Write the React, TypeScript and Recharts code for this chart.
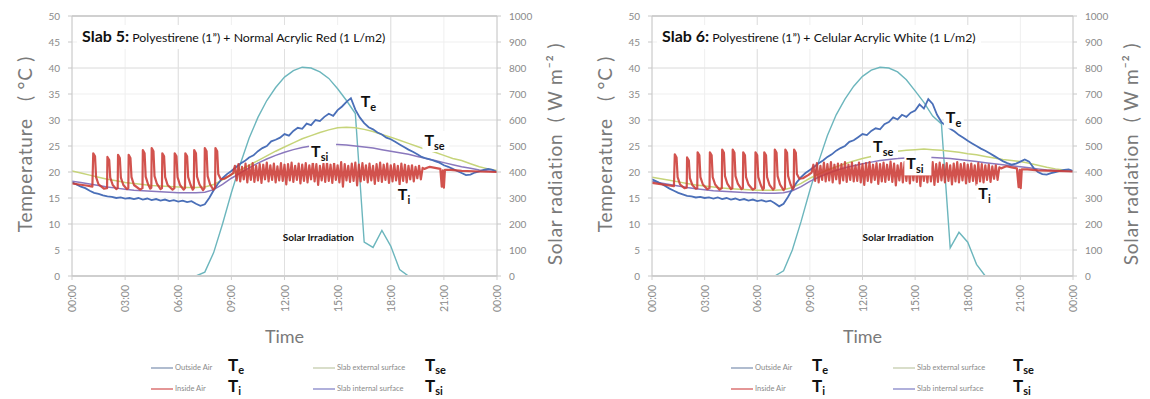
import React from "react";
import { LineChart, Line, XAxis, YAxis, CartesianGrid, ReferenceDot, ReferenceLine } from "recharts";

// time axis
const X_TICKS = [0, 3, 6, 9, 12, 15, 18, 21, 24];
const X_TICK_LABELS = ["00:00", "03:00", "06:00", "09:00", "12:00", "15:00", "18:00", "21:00", "00:00"];
const T_TICKS = [0, 5, 10, 15, 20, 25, 30, 35, 40, 45, 50];
const S_TICKS = [0, 100, 200, 300, 400, 500, 600, 700, 800, 900, 1000];

const HOURS_HALF = [
  0, 0.5, 1, 1.5, 2, 2.5, 3, 3.5, 4, 4.5, 5, 5.5, 6, 6.5, 7, 7.5, 8, 8.5, 9, 9.5, 10, 10.5, 11, 11.5,
  12, 12.5, 13, 13.5, 14, 14.5, 15, 15.5, 16, 16.5, 17, 17.5, 18, 18.5, 19, 19.5, 20, 20.5, 21, 21.5,
  22, 22.5, 23, 23.5, 24,
];
const HOURS_QUARTER = [
  0, 0.25, 0.5, 0.75, 1, 1.25, 1.5, 1.75, 2, 2.25, 2.5, 2.75, 3, 3.25, 3.5, 3.75, 4, 4.25, 4.5, 4.75,
  5, 5.25, 5.5, 5.75, 6, 6.25, 6.5, 6.75, 7, 7.25, 7.5, 7.75, 8, 8.25, 8.5, 8.75, 9, 9.25, 9.5, 9.75,
  10, 10.25, 10.5, 10.75, 11, 11.25, 11.5, 11.75, 12, 12.25, 12.5, 12.75, 13, 13.25, 13.5, 13.75,
  14, 14.25, 14.5, 14.75, 15, 15.25, 15.5, 15.75, 16, 16.25, 16.5, 16.75, 17, 17.25, 17.5, 17.75,
  18, 18.25, 18.5, 18.75, 19, 19.25, 19.5, 19.75, 20, 20.25, 20.5, 20.75, 21, 21.25, 21.5, 21.75,
  22, 22.25, 22.5, 22.75, 23, 23.25, 23.5, 23.75, 24,
];

// ---- Slab 5 ----
const TE_5 = [
  18.0, 17.6, 17.2, 16.9, 16.4, 16.0, 15.8, 15.5,
  15.3, 15.2, 15.0, 15.1, 14.9, 15.0, 14.8, 15.0,
  14.7, 14.9, 14.6, 14.8, 14.5, 14.7, 14.4, 14.6,
  14.3, 14.5, 14.2, 14.4, 13.9, 13.5, 13.8, 15.0,
  16.5, 17.8, 18.8, 19.6, 20.2, 20.9, 21.6, 22.1,
  22.8, 23.2, 24.0, 24.6, 25.0, 25.9, 26.2, 26.6,
  27.3, 27.0, 27.9, 28.5, 28.3, 29.3, 29.0, 30.0,
  29.8, 30.6, 31.2, 30.8, 31.9, 32.6, 33.5, 34.2,
  32.0, 30.5, 29.4, 28.6, 28.2, 27.6, 27.2, 26.6,
  26.3, 25.8, 25.3, 24.8, 24.3, 23.9, 23.4, 22.9,
  22.6, 22.4, 22.1, 21.8, 21.3, 21.0, 20.6, 20.2,
  19.8, 19.4, 19.5, 19.9, 20.1, 20.4, 20.6, 20.4,
  20.0,
];
const TSE_5 = [
  20.2, 19.8, 19.4, 19.0, 18.6, 18.3, 18.0, 17.8, 17.6, 17.4, 17.3, 17.2, 17.1, 17.0, 17.0, 17.1,
  17.6, 18.5, 19.5, 20.4, 21.3, 22.2, 23.1, 24.0,
  24.8, 25.6, 26.4, 27.0, 27.6, 28.1, 28.5, 28.6,
  28.5, 28.2, 27.8, 27.2, 26.7, 26.1, 25.5, 24.9,
  24.3, 23.8, 23.2, 22.6, 22.2, 21.6, 21.0, 20.6,
  20.3,
];
const TSI_5 = [
  18.2, 18.0, 17.7, 17.4, 17.1, 16.9, 16.7, 16.5, 16.4, 16.3, 16.2, 16.1, 16.0, 16.0, 16.0, 16.1,
  16.6, 17.6, 18.8, 19.8, 20.8, 21.7, 22.5, 23.2,
  23.8, 24.3, 24.7, 25.0, 25.2, 25.3, 25.3, 25.2,
  25.0, 24.8, 24.6, 24.3, 24.0, 23.7, 23.4, 23.0,
  22.6, 22.2, 21.8, 21.4, 21.0, 20.7, 20.4, 20.2,
  20.0,
];
const SOLAR_5 = [
  0, 0, 0, 0, 0, 0, 0, 0, 0, 0, 0, 0, 0, 0, 0,
  15, 90, 200, 320, 430, 530, 610, 675, 725, 765, 790, 803, 800, 785, 760, 720, 675, 625,
  130, 110, 175, 115, 25,
  0, 0, 0, 0, 0, 0, 0, 0, 0, 0, 0,
];
const TI_HEAD_5 = [
  [0, 17.8], [0.4, 17.6], [0.8, 17.4], [1.15, 17.2],
  [1.2, 23.6], [1.3, 23.0], [1.36, 19.0], [1.5, 17.6], [1.8, 16.8], [1.98, 16.9],
  [2.0, 22.9], [2.1, 22.3], [2.16, 18.9], [2.3, 17.5], [2.5, 16.7], [2.58, 16.9],
  [2.6, 23.3], [2.7, 22.7], [2.76, 18.9], [2.9, 17.5], [3.1, 16.7], [3.18, 16.9],
  [3.2, 23.3], [3.3, 22.7], [3.36, 19.0], [3.5, 17.5], [3.85, 16.6], [3.98, 16.9],
  [4.0, 24.2], [4.1, 23.6], [4.16, 19.1], [4.3, 17.6], [4.42, 16.8], [4.48, 17.0],
  [4.5, 24.6], [4.6, 24.0], [4.66, 19.2], [4.8, 17.7], [5.0, 16.7], [5.08, 16.9],
  [5.1, 23.6], [5.2, 23.0], [5.26, 19.0], [5.4, 17.5], [5.68, 16.6], [5.78, 16.9],
  [5.8, 23.6], [5.9, 23.0], [5.96, 19.0], [6.1, 17.5], [6.3, 16.6], [6.38, 16.9],
  [6.4, 23.6], [6.5, 23.0], [6.56, 19.0], [6.7, 17.5], [6.82, 16.6], [6.88, 16.9],
  [6.9, 24.2], [7.0, 23.6], [7.06, 19.1], [7.2, 17.6], [7.4, 16.5], [7.48, 16.9],
  [7.5, 24.6], [7.6, 24.0], [7.66, 19.2], [7.8, 17.6], [7.98, 16.6], [8.08, 17.0],
  [8.1, 24.6], [8.2, 24.0], [8.26, 19.6], [8.4, 18.6], [8.6, 18.7], [8.9, 19.3], [9.1, 19.8],
];
// thermostat band, sampled every 0.1 h from 9.2 h
const TI_BAND_5 = [
  21.2, 18.4, 21.5, 18.2, 21.0, 18.6, 21.6, 18.0, 21.3, 18.5,
  21.7, 18.1, 21.2, 18.4, 21.5, 17.9, 21.4, 18.6, 21.8, 18.2,
  21.3, 18.5, 21.6, 18.0, 21.1, 18.4, 21.7, 18.3, 21.4, 17.6,
  21.5, 18.4, 21.8, 18.1, 21.2, 18.5, 21.6, 17.8, 21.4, 18.3,
  21.7, 18.0, 21.3, 18.6, 21.9, 18.2, 21.5, 17.5, 21.2, 18.4,
  21.6, 18.1, 21.8, 18.3, 21.4, 17.9, 21.7, 18.5, 21.3, 18.0,
  21.9, 17.2, 21.5, 18.4, 21.2, 18.1, 21.6, 18.3, 21.8, 17.4,
  21.4, 18.2, 21.7, 18.5, 21.3, 18.0, 21.6, 18.4, 21.2, 17.7,
  21.5, 18.3, 21.8, 18.1, 21.4, 18.5, 21.6, 17.9, 21.3, 18.2,
  21.5, 18.4, 21.2, 17.6, 21.6, 18.3, 21.4, 18.0, 21.2, 18.6,
  21.3, 18.2, 21.0, 18.8, 21.2, 18.6, 20.8,
];
const TI_TAIL_5 = [
  [19.9, 20.6], [20.2, 21.0], [20.5, 20.8], [20.8, 20.6], [20.88, 17.2], [20.94, 20.3],
  [21.0, 17.0], [21.06, 20.4], [21.4, 20.4], [22.0, 20.2], [23.0, 20.1], [24.0, 20.0],
];

// ---- Slab 6 ----
const TE_6 = [
  18.6, 18.2, 17.8, 17.3, 16.8, 16.4, 16.0, 15.7,
  15.4, 15.3, 15.1, 15.2, 15.0, 15.1, 14.9, 15.1,
  14.8, 15.0, 14.7, 14.9, 14.6, 14.8, 14.5, 14.7,
  14.4, 14.6, 14.3, 14.5, 14.0, 13.4, 13.9, 15.2,
  16.7, 18.0, 19.0, 19.8, 20.4, 21.0, 21.7, 22.2,
  22.9, 23.4, 24.1, 24.6, 25.0, 25.8, 26.1, 26.7,
  27.3, 27.1, 27.9, 28.4, 28.2, 29.2, 29.6, 30.5,
  30.1, 31.0, 30.6, 31.4, 31.8, 33.0, 32.2, 34.0,
  33.1, 31.0, 29.6, 28.9, 28.3, 27.8, 27.1, 26.6,
  26.0, 25.5, 25.0, 24.5, 24.1, 23.6, 23.1, 22.6,
  22.1, 21.7, 21.4, 21.6, 22.0, 22.4, 22.0, 20.8,
  20.0, 19.6, 19.5, 19.8, 20.0, 20.2, 20.4, 20.5,
  20.2,
];
const TSE_6 = [
  19.0, 18.7, 18.4, 18.1, 17.8, 17.5, 17.3, 17.1, 16.9, 16.8, 16.7, 16.6, 16.5, 16.5, 16.5, 16.6,
  17.0, 17.8, 18.8, 19.6, 20.4, 21.0, 21.6, 22.1,
  22.6, 23.0, 23.4, 23.7, 24.0, 24.2, 24.3, 24.4,
  24.3, 24.2, 24.0, 23.8, 23.5, 23.3, 23.0, 22.7,
  22.4, 22.2, 22.0, 21.7, 21.3, 20.9, 20.6, 20.4,
  20.2,
];
const TSI_6 = [
  18.2, 17.9, 17.6, 17.3, 17.0, 16.8, 16.6, 16.4, 16.3, 16.2, 16.1, 16.0, 16.0, 15.9, 15.9, 16.0,
  16.4, 17.2, 18.2, 19.0, 19.7, 20.3, 20.8, 21.2,
  21.6, 21.9, 22.2, 22.4, 22.6, 22.7, 22.8, 22.8,
  22.8, 22.7, 22.6, 22.4, 22.2, 22.0, 21.8, 21.6,
  21.4, 21.2, 21.0, 20.8, 20.6, 20.4, 20.3, 20.2,
  20.1,
];
const SOLAR_6 = [
  0, 0, 0, 0, 0, 0, 0, 0, 0, 0, 0, 0, 0, 0, 0,
  20, 100, 210, 330, 440, 540, 620, 680, 730, 768, 792, 803, 800, 785, 755, 712, 668, 615,
  585, 108, 168, 130, 45,
  0, 0, 0, 0, 0, 0, 0, 0, 0, 0, 0,
];
const TI_HEAD_6 = [
  [0, 17.9], [0.4, 17.7], [0.8, 17.5], [1.25, 17.3],
  [1.3, 23.4], [1.4, 22.8], [1.46, 19.0], [1.6, 17.6], [1.85, 16.9], [1.98, 17.0],
  [2.0, 22.8], [2.1, 22.2], [2.16, 18.8], [2.3, 17.5], [2.5, 16.8], [2.58, 16.9],
  [2.6, 23.8], [2.7, 23.2], [2.76, 19.0], [2.9, 17.6], [3.15, 16.7], [3.28, 16.9],
  [3.3, 23.8], [3.4, 23.2], [3.46, 19.0], [3.6, 17.6], [3.85, 16.6], [3.98, 16.9],
  [4.0, 24.3], [4.1, 23.7], [4.16, 19.2], [4.3, 17.7], [4.5, 16.7], [4.58, 16.9],
  [4.6, 24.3], [4.7, 23.7], [4.76, 19.2], [4.9, 17.7], [5.1, 16.7], [5.18, 16.9],
  [5.2, 23.8], [5.3, 23.2], [5.36, 19.0], [5.5, 17.6], [5.75, 16.6], [5.88, 16.9],
  [5.9, 23.8], [6.0, 23.2], [6.06, 19.0], [6.2, 17.5], [6.32, 16.6], [6.38, 16.9],
  [6.4, 23.8], [6.5, 23.2], [6.56, 19.0], [6.7, 17.5], [6.9, 16.6], [6.98, 16.9],
  [7.0, 24.3], [7.1, 23.7], [7.16, 19.2], [7.3, 17.6], [7.5, 16.5], [7.58, 16.9],
  [7.6, 24.3], [7.7, 23.7], [7.76, 19.2], [7.9, 17.6], [8.02, 16.7], [8.08, 17.0],
  [8.1, 24.3], [8.2, 23.7], [8.26, 19.6], [8.4, 18.7], [8.6, 18.8], [8.9, 19.4], [9.1, 19.9],
];
const TI_BAND_6 = [
  21.4, 18.3, 21.7, 18.0, 21.2, 18.5, 21.8, 18.2, 21.5, 18.4,
  21.9, 18.0, 21.4, 18.6, 21.6, 17.8, 21.5, 18.4, 21.9, 18.1,
  21.4, 18.5, 21.8, 18.2, 21.3, 18.3, 21.8, 18.0, 21.5, 17.5,
  21.7, 18.3, 21.9, 18.0, 21.4, 18.5, 21.7, 17.7, 21.5, 18.2,
  21.8, 18.1, 21.4, 18.5, 22.0, 18.1, 21.6, 17.4, 21.3, 18.4,
  21.7, 18.0, 21.9, 18.3, 21.5, 17.8, 21.8, 18.4, 21.4, 18.1,
  22.0, 17.3, 21.6, 18.3, 21.3, 18.0, 21.7, 18.2, 21.9, 17.5,
  21.5, 18.1, 21.8, 18.4, 21.4, 18.0, 21.7, 18.3, 21.3, 17.6,
  21.6, 18.2, 21.9, 18.0, 21.5, 18.4, 21.7, 17.8, 21.4, 18.1,
  21.6, 18.3, 21.3, 17.5, 21.7, 18.2, 21.5, 18.0, 21.3, 18.5,
  21.4, 18.1, 21.1, 18.7, 21.3, 18.5, 20.9,
];
const TI_TAIL_6 = [
  [19.9, 20.7], [20.2, 21.1], [20.5, 20.9], [20.8, 20.7], [20.9, 17.1], [20.96, 20.4],
  [21.02, 16.9], [21.08, 20.5], [21.4, 20.5], [22.0, 20.3], [23.0, 20.2], [24.0, 20.1],
];
const BAND_START = 9.2;
const BAND_STEP = 0.1;

const C_TE = "#4a6fb8";
const C_TI = "#cc3b36";
const C_TSE = "#c6d47a";
const C_TSI = "#8a78bd";
const C_SOLAR = "#6cb6bd";
const FONT = "Lato, 'Open Sans', sans-serif";

const zip = (hours: number[], values: number[]) => hours.map((t, i) => ({ t, v: values[i] }));
const pairs = (list: number[][]) => list.map(([t, v]) => ({ t, v }));
const insideAir = (head: number[][], band: number[], tail: number[][]) => [
  ...pairs(head),
  ...band.map((v, i) => ({ t: +(BAND_START + i * BAND_STEP).toFixed(2), v })),
  ...pairs(tail),
];

function XTick({ x, y, payload, index }: any) {
  const yy = y + 3;
  return (
    <text x={x} y={yy} transform={`rotate(-90 ${x} ${yy})`} textAnchor="end" dominantBaseline="central"
      fontSize={10.5} fill="#8a8a8a" fontFamily={FONT}>
      {X_TICK_LABELS[index] ?? payload.value}
    </text>
  );
}

function TMark({ cx, cy, sub }: any) {
  const w = 13 + sub.length * 7;
  return (
    <g>
      <rect x={cx - 2} y={cy - 15} width={w} height={21} fill="#fff" />
      <text x={cx} y={cy} fontFamily={FONT} fontWeight={700} fontSize={16} fill="#111">
        T<tspan fontSize={11} dy={4}>{sub}</tspan>
      </text>
    </g>
  );
}

type Slab = {
  left: number;
  width: number;
  name: string;
  desc: string;
  te: number[];
  tse: number[];
  tsi: number[];
  solar: number[];
  ti: { t: number; v: number }[];
  marks: { sub: string; t: number; v: number }[];
  solarAt: [number, number];
  legendT1: number;
  legendT2: number;
};

function LegendItem({ x, y, color, name, sub, tx }: any) {
  return (
    <>
      <div style={{ position: "absolute", left: x, top: y - 1, width: 22, height: 2, background: color, opacity: 0.7 }} />
      <div style={{ position: "absolute", left: x + 24, top: y - 6, fontSize: 7.5, color: "#8a8a8a", whiteSpace: "nowrap", lineHeight: "11px" }}>
        {name}
      </div>
      <div style={{ position: "absolute", left: tx, top: y - 13, fontSize: 17, fontWeight: 700, color: "#111", lineHeight: "20px", whiteSpace: "nowrap" }}>
        T<sub style={{ fontSize: 11, verticalAlign: "-3px" }}>{sub}</sub>
      </div>
    </>
  );
}

function SlabChart(s: Slab) {
  const plotLeft = 72;
  const plotRight = s.width - 73;
  const mid = (plotLeft + plotRight) / 2;
  return (
    <div style={{ position: "absolute", left: s.left, top: 0, width: s.width, height: 399, fontFamily: FONT }}>
      <LineChart width={s.width} height={330} margin={{ top: 16, right: 0, bottom: 0, left: 0 }}>
        <CartesianGrid stroke="#efefef" />
        <XAxis type="number" dataKey="t" domain={[0, 24]} ticks={X_TICKS} tick={<XTick />} height={54}
          axisLine={{ stroke: "#cfcfcf", strokeWidth: 2 }} tickLine={{ stroke: "#cfcfcf" }} tickSize={4} allowDataOverflow />
        <YAxis domain={[0, 50]} ticks={T_TICKS} width={72} tickSize={4} tickMargin={8}
          tick={{ fontSize: 10, fill: "#8a8a8a", fontFamily: FONT }} axisLine={{ stroke: "#c8c8c8" }} tickLine={{ stroke: "#c8c8c8" }} />
        <YAxis yAxisId="s" orientation="right" domain={[0, 1000]} ticks={S_TICKS} width={73} tickSize={4} tickMargin={8}
          tick={{ fontSize: 10, fill: "#8a8a8a", fontFamily: FONT, textAnchor: "start" }} axisLine={{ stroke: "#c8c8c8" }} tickLine={{ stroke: "#c8c8c8" }} />
        {[10, 20, 30, 40].map((v) => (
          <ReferenceLine key={"h" + v} y={v} stroke="#e2e2e2" />
        ))}
        {[6, 12, 18].map((v) => (
          <ReferenceLine key={"v" + v} x={v} stroke="#e0e0e0" />
        ))}
        <ReferenceLine y={50} stroke="#d0d0d0" strokeWidth={2} />
        <Line data={zip(HOURS_HALF, s.solar)} yAxisId="s" dataKey="v" stroke={C_SOLAR} strokeWidth={1.4} dot={false} activeDot={false} isAnimationActive={false} />
        <Line data={zip(HOURS_HALF, s.tse)} dataKey="v" stroke={C_TSE} strokeWidth={1.5} dot={false} activeDot={false} isAnimationActive={false} />
        <Line data={zip(HOURS_HALF, s.tsi)} dataKey="v" stroke={C_TSI} strokeWidth={1.5} dot={false} activeDot={false} isAnimationActive={false} />
        <Line data={zip(HOURS_QUARTER, s.te)} dataKey="v" stroke={C_TE} strokeWidth={1.8} dot={false} activeDot={false} isAnimationActive={false} />
        <Line data={s.ti} dataKey="v" stroke={C_TI} strokeWidth={2.2} strokeOpacity={0.88} strokeLinejoin="round" dot={false} activeDot={false} isAnimationActive={false} />
        {s.marks.map((m) => (
          <ReferenceDot key={m.sub} x={m.t} y={m.v} r={0} ifOverflow="visible"
            shape={(p: any) => <TMark cx={p.cx} cy={p.cy} sub={m.sub} />} />
        ))}
        <ReferenceDot x={s.solarAt[0]} y={s.solarAt[1]} r={0} ifOverflow="visible"
          shape={(p: any) => (
            <text x={p.cx} y={p.cy} fontFamily={FONT} fontWeight={700} fontSize={10} fill="#111">Solar Irradiation</text>
          )} />
      </LineChart>

      <div style={{ position: "absolute", left: 77, top: 25, background: "#fff", padding: "1px 5px", whiteSpace: "nowrap", lineHeight: "20px", color: "#111" }}>
        <span style={{ fontSize: 16, fontWeight: 700 }}>{s.name}</span>
        <span style={{ fontSize: 12.3 }}> {s.desc}</span>
      </div>

      <div style={{ position: "absolute", left: 24, top: 144, transform: "translate(-50%, -50%) rotate(-90deg)", fontSize: 19, letterSpacing: 0.8, color: "#7a7a7a", whiteSpace: "pre" }}>
        {"Temperature   ( °C )"}
      </div>
      <div style={{ position: "absolute", left: s.width - 16, top: 154, transform: "translate(-50%, -50%) rotate(-90deg)", fontSize: 19, letterSpacing: 0.8, color: "#7a7a7a", whiteSpace: "pre" }}>
        {"Solar radiation  ( W m⁻² )"}
      </div>
      <div style={{ position: "absolute", left: mid, top: 325, transform: "translateX(-50%)", fontSize: 18, color: "#7a7a7a" }}>Time</div>

      <LegendItem x={151} y={368} color="#8fa0bb" name="Outside Air" sub="e" tx={s.legendT1} />
      <LegendItem x={151} y={389} color="#d96a6a" name="Inside Air" sub="i" tx={s.legendT1} />
      <LegendItem x={313} y={368} color="#c9d0b4" name="Slab external surface" sub="se" tx={s.legendT2} />
      <LegendItem x={313} y={389} color="#8f8fcc" name="Slab internal surface" sub="si" tx={s.legendT2} />
    </div>
  );
}

export default function App() {
  return (
    <div style={{ position: "absolute", left: 0, top: 0, width: 1150, height: 399, background: "#fff", overflow: "hidden" }}>
      <SlabChart
        left={0}
        width={570}
        name="Slab 5:"
        desc="Polyestirene (1”) + Normal Acrylic Red (1 L/m2)"
        te={TE_5}
        tse={TSE_5}
        tsi={TSI_5}
        solar={SOLAR_5}
        ti={insideAir(TI_HEAD_5, TI_BAND_5, TI_TAIL_5)}
        marks={[
          { sub: "e", t: 16.3, v: 32.5 },
          { sub: "se", t: 19.9, v: 25.0 },
          { sub: "si", t: 13.5, v: 22.9 },
          { sub: "i", t: 18.4, v: 14.6 },
        ]}
        solarAt={[11.9, 6.7]}
        legendT1={228}
        legendT2={425}
      />
      <SlabChart
        left={580}
        width={566}
        name="Slab 6:"
        desc="Polyestirene (1”) + Celular Acrylic White (1 L/m2)"
        te={TE_6}
        tse={TSE_6}
        tsi={TSI_6}
        solar={SOLAR_6}
        ti={insideAir(TI_HEAD_6, TI_BAND_6, TI_TAIL_6)}
        marks={[
          { sub: "e", t: 16.75, v: 29.5 },
          { sub: "se", t: 12.6, v: 23.9 },
          { sub: "si", t: 14.5, v: 20.5 },
          { sub: "i", t: 18.6, v: 14.75 },
        ]}
        solarAt={[12.0, 6.7]}
        legendT1={232}
        legendT2={433}
      />
    </div>
  );
}
